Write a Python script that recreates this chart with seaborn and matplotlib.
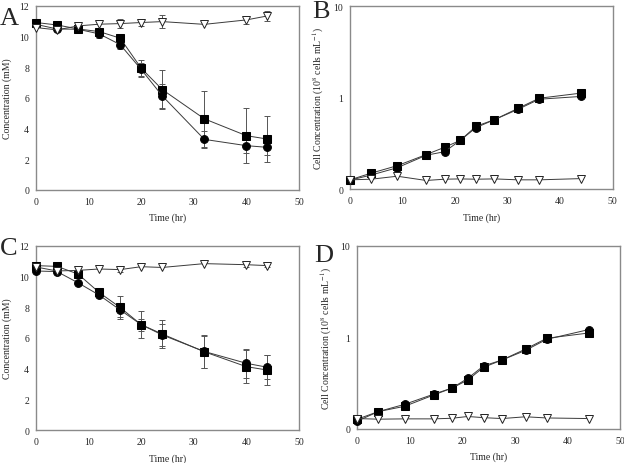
import numpy as np
import matplotlib
matplotlib.use("Agg")
import matplotlib.pyplot as plt
import seaborn as sns

# ── Dados ─────────────────────────────────────────────────────────────
# Paineis A e C: concentracao (mM) x tempo (h)
T_CONC = [0, 4, 8, 12, 16, 20, 24, 32, 40, 44]

A_QUAD = [10.92, 10.76, 10.50, 10.33, 9.90, 7.94, 6.55, 4.64, 3.54, 3.32]
A_QUAD_ERR = [0, 0, 0, 0, 0, 0.55, 1.26, 1.83, 1.80, 1.50]
A_CIRC = [10.80, 10.50, 10.48, 10.18, 9.48, 7.86, 6.14, 3.30, 2.89, 2.78]
A_CIRC_ERR = [0, 0, 0, 0.30, 0.30, 0.40, 0.80, 0.57, 0.50, 0.50]
A_TRI = [10.59, 10.44, 10.70, 10.81, 10.85, 10.92, 10.98, 10.80, 11.09, 11.35]
A_TRI_ERR = [0, 0, 0, 0, 0.30, 0.25, 0.40, 0, 0.25, 0.30]

C_QUAD = [10.72, 10.67, 10.17, 8.97, 7.99, 6.87, 6.26, 5.10, 4.13, 3.91]
C_QUAD_ERR = [0, 0, 0, 0.15, 0.73, 0.87, 0.94, 1.05, 1.06, 1.00]
C_CIRC = [10.37, 10.33, 9.60, 8.80, 7.83, 6.87, 6.20, 5.12, 4.35, 4.09]
C_CIRC_ERR = [0, 0, 0, 0, 0.48, 0.40, 0.72, 1.05, 0.93, 0.78]
C_TRI = [10.63, 10.37, 10.41, 10.50, 10.46, 10.65, 10.60, 10.85, 10.78, 10.72]
C_TRI_ERR = [0, 0, 0, 0, 0.15, 0, 0, 0, 0.15, 0.10]

# Paineis B e D: concentracao celular (10^8 celulas/mL), escala log
T_CEL = [0, 4, 9, 14.5, 18, 21, 24, 27.5, 32, 36, 44]

B_QUAD = [0.126, 0.149, 0.180, 0.238, 0.286, 0.341, 0.486, 0.574, 0.764, 0.984, 1.12]
B_CIRC = [0.125, 0.142, 0.171, 0.234, 0.256, 0.341, 0.470, 0.574, 0.745, 0.960, 1.03]
B_TRI = [0.126, 0.128, 0.138, 0.124, 0.128, 0.129, 0.128, 0.129, 0.126, 0.126, 0.130]

D_QUAD = [0.128, 0.155, 0.177, 0.235, 0.280, 0.343, 0.472, 0.567, 0.748, 0.980, 1.12]
D_CIRC = [0.122, 0.155, 0.186, 0.240, 0.280, 0.358, 0.489, 0.567, 0.724, 0.955, 1.22]
D_TRI = [0.130, 0.128, 0.129, 0.129, 0.131, 0.137, 0.133, 0.130, 0.136, 0.132, 0.130]

X_TICKS = [0, 10, 20, 30, 40, 50]
CONC_TICKS = [0, 2, 4, 6, 8, 10, 12]
CEL_TICKS = [0.1, 1, 10]
CEL_TICK_LABELS = ["0", "1", "10"]

# ── Estilo ────────────────────────────────────────────────────────────
sns.set_style("white")
plt.rcParams["font.family"] = ["Liberation Serif", "DejaVu Serif"]
plt.rcParams["mathtext.fontset"] = "stix"

CINZA = "#8a8a8a"
LINHA = "#3a3a3a"
FS = 7.0

ESTILOS = [
    dict(marker="s", markerfacecolor="black", markeredgecolor="black", markersize=5.2),
    dict(marker="o", markerfacecolor="black", markeredgecolor="black", markersize=5.6),
    dict(marker="v", markerfacecolor="white", markeredgecolor="#222222", markersize=6.2,
         markeredgewidth=0.7),
]


def formatar_eixo(ax):
    for s in ax.spines.values():
        s.set_color(CINZA)
        s.set_linewidth(1.0)
    ax.tick_params(axis="both", which="major", direction="out", length=3,
                   width=0.8, color=CINZA, labelsize=FS, pad=2)
    ax.tick_params(axis="both", which="minor", length=0)
    ax.set_xlim(0, 50)
    ax.set_xticks(X_TICKS)
    ax.set_xlabel("Time (hr)", fontsize=FS, labelpad=5)


def painel_conc(ax, series, erros):
    for y, err, est in zip(series, erros, ESTILOS):
        e = np.array(err)
        m = e > 0
        ax.errorbar(np.array(T_CONC)[m], np.array(y)[m], yerr=e[m], fmt="none",
                    ecolor="#555555", elinewidth=0.7, capsize=2.2, capthick=0.7, zorder=2)
        sns.lineplot(x=T_CONC, y=y, ax=ax, color=LINHA, linewidth=0.7,
                     zorder=3, clip_on=False, **est)
    ax.set_ylim(0, 12)
    ax.set_yticks(CONC_TICKS)
    ax.set_ylabel("Concentration (mM)", fontsize=FS, labelpad=5)
    formatar_eixo(ax)


def painel_cel(ax, series):
    for y, est in zip(series, ESTILOS):
        sns.lineplot(x=T_CEL, y=y, ax=ax, color=LINHA, linewidth=0.7,
                     zorder=3, clip_on=False, **est)
    ax.set_yscale("log")
    ax.set_ylim(0.1, 10)
    ax.set_yticks(CEL_TICKS)
    ax.set_yticklabels(CEL_TICK_LABELS)
    ax.set_ylabel(r"Cell Concentration (10$^{8}$ cells mL$^{-1}$)", fontsize=FS, labelpad=5)
    formatar_eixo(ax)


fig = plt.figure(figsize=(6.24, 4.64), dpi=100)
fig.patch.set_facecolor("white")

ax_a = fig.add_axes([0.0577, 0.5884, 0.4215, 0.3966])
ax_b = fig.add_axes([0.5609, 0.5905, 0.4210, 0.3940])
ax_c = fig.add_axes([0.0577, 0.0711, 0.4215, 0.3966])
ax_d = fig.add_axes([0.5726, 0.0733, 0.4215, 0.3944])

painel_conc(ax_a, [A_QUAD, A_CIRC, A_TRI], [A_QUAD_ERR, A_CIRC_ERR, A_TRI_ERR])
painel_cel(ax_b, [B_QUAD, B_CIRC, B_TRI])
painel_conc(ax_c, [C_QUAD, C_CIRC, C_TRI], [C_QUAD_ERR, C_CIRC_ERR, C_TRI_ERR])
painel_cel(ax_d, [D_QUAD, D_CIRC, D_TRI])

# letras dos paineis
for letra, x, y in [("A", 0.000, 0.947), ("B", 0.500, 0.962),
                    ("C", 0.000, 0.450), ("D", 0.503, 0.435)]:
    fig.text(x, y, letra, fontsize=19, ha="left", va="baseline")

fig.savefig("out.png", dpi=100, facecolor="white")
